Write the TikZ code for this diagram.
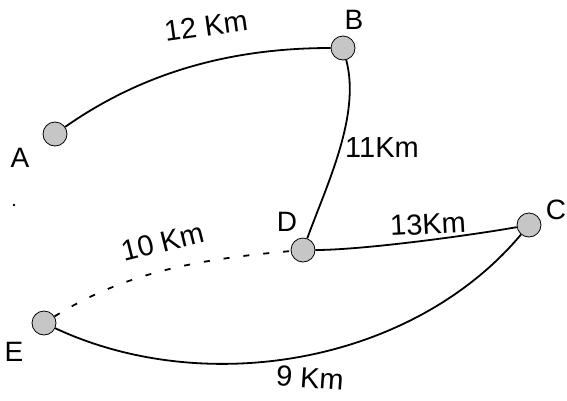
\documentclass[tikz,border=0pt]{standalone}
\usepackage{fontspec}
\setmainfont{Liberation Sans}
\begin{document}
\begin{tikzpicture}[x=1pt,y=-1pt,
  city/.style={circle,draw=black,line width=0.8pt,fill=gray!45,minimum size=24pt,inner sep=0pt},
  lbl/.style={font=\fontsize{28}{30}\selectfont,inner sep=0pt},
  dist/.style={font=\fontsize{29}{31}\selectfont,inner sep=0pt},
  road/.style={line width=1.8pt,draw=black}]
\useasboundingbox (0,0) rectangle (567,400);
\node[city] (A) at (55,134) {};
\node[city] (B) at (343,48) {};
\node[city] (D) at (303,250) {};
\node[city] (C) at (529,225) {};
\node[city] (E) at (44,323) {};
\node[lbl] (lA) at (20,158) {A};
\node[lbl] (lB) at (354,20) {B};
\node[lbl] (lD) at (287,222) {D};
\node[lbl] (lC) at (556,210) {C};
\node[lbl] (lE) at (14,352) {E};
\fill (14,205) circle (1.3);
\draw[road] (A) to[out=35,in=180,looseness=0.9] (B);
\draw[road] (B) to[out=-75,in=70,looseness=0.8] (D);
\draw[road] (D) to[out=0,in=190,looseness=0.6] (C);
\draw[road] (E) to[out=-25,in=-130,looseness=0.9] (C);
\draw[line width=1.8pt,dash pattern=on 6pt off 14pt] (E) to[out=32,in=185,looseness=0.9] (D);
\node[dist,rotate=8] (d1) at (206,26) {12 Km};
\node[dist] (d2) at (382,148) {11Km};
\node[dist,rotate=14] (d3) at (163,242) {10 Km};
\node[dist,rotate=3] (d4) at (428,224) {13Km};
\node[dist,rotate=-4] (d5) at (310,378) {9 Km};
\end{tikzpicture}
\end{document}
